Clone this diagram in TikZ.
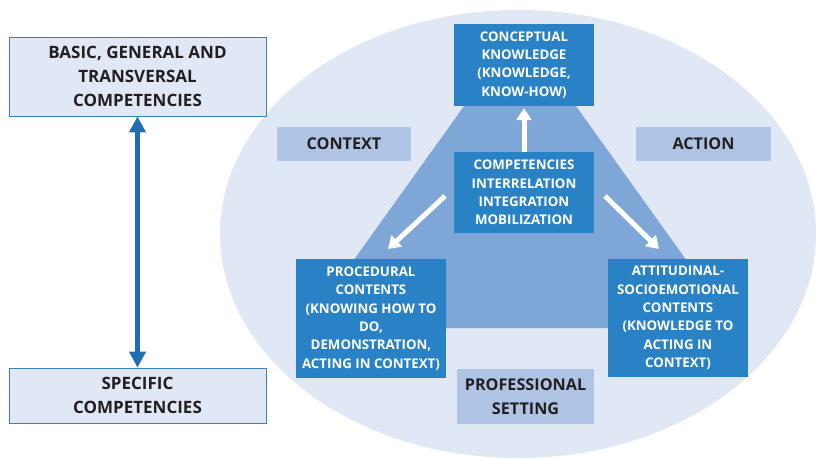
\documentclass[tikz,border=0pt]{standalone}
\usepackage{fontspec}
\setmainfont{Open Sans}
\usetikzlibrary{arrows.meta}
\definecolor{ellfill}{HTML}{E0E8F5}
\definecolor{trifill}{HTML}{7EA7D8}
\definecolor{darkbox}{HTML}{2A82C6}
\definecolor{lightbox}{HTML}{AFC4E4}
\definecolor{leftborder}{HTML}{3A7FC0}
\definecolor{txt}{HTML}{231F20}
\definecolor{arrowblue}{HTML}{1F6EB5}
\tikzset{
  x=1pt, y=-1pt,
  darkbox/.style={fill=darkbox, text=white, inner sep=0pt, align=center, font=\bfseries\fontsize{13.3}{18.3}\selectfont},
  labelbox/.style={fill=lightbox, text=txt, inner sep=0pt, align=center, font=\bfseries\fontsize{16.2}{23.5}\selectfont},
  leftbox/.style={fill=ellfill, draw=leftborder, line width=0.8pt, text=txt, inner sep=0pt, align=center, font=\bfseries\fontsize{17}{23.7}\selectfont},
  whitearrow/.style={draw=white, line width=5pt, -{Triangle[width=15pt,length=12pt]}},
  bluearrow/.style={draw=arrowblue, line width=5.5pt, {Triangle[width=16pt,length=16pt]}-{Triangle[width=16pt,length=16pt]}}
}
\begin{document}
\begin{tikzpicture}
\useasboundingbox (0,0) rectangle (817,459);
% ellipse and triangle
\fill[ellfill] (518,234) ellipse [x radius=298, y radius=224];
\fill[trifill] (520,28) -- (735,328) -- (305,328) -- cycle;
% left boxes
\node[leftbox, minimum width=257pt, minimum height=79pt] (basic) at (137.5,76.5) {BASIC, GENERAL AND\\TRANSVERSAL\\COMPETENCIES};
\node[leftbox, minimum width=257pt, minimum height=55pt] (spec) at (137.5,395.5) {SPECIFIC\\COMPETENCIES};
\draw[bluearrow] (basic.south) -- (spec.north);
% label boxes
\node[labelbox, minimum width=134pt, minimum height=34pt] (context) at (344,144) {CONTEXT};
\node[labelbox, minimum width=135pt, minimum height=34pt] (action) at (703.5,144) {ACTION};
\node[labelbox, minimum width=137pt, minimum height=55pt] (prof) at (525.5,396.5) {PROFESSIONAL\\SETTING};
% dark boxes
\node[darkbox, minimum width=140pt, minimum height=82pt] (conc) at (524,65) {CONCEPTUAL\\KNOWLEDGE\\(KNOWLEDGE,\\KNOW-HOW)};
\node[darkbox, minimum width=140pt, minimum height=81pt] (comp) at (524,192.5) {COMPETENCIES\\INTERRELATION\\INTEGRATION\\MOBILIZATION};
\node[darkbox, minimum width=150pt, minimum height=119pt] (proc) at (371,318.5) {PROCEDURAL\\CONTENTS\\(KNOWING HOW TO\\DO,\\DEMONSTRATION,\\ACTING IN CONTEXT)};
\node[darkbox, minimum width=140pt, minimum height=118pt] (att) at (678,318) {ATTITUDINAL-\\SOCIOEMOTIONAL\\CONTENTS\\(KNOWLEDGE TO\\ACTING IN\\CONTEXT)};
% white arrows
\coordinate (lstart) at (445,196);
\coordinate (lend) at (388,249);
\coordinate (rstart) at (605,196);
\coordinate (rend) at (659,249);
\draw[whitearrow] (comp.north) -- ([yshift=-2pt]conc.south);
\draw[whitearrow] (lstart) -- (lend);
\draw[whitearrow] (rstart) -- (rend);
\end{tikzpicture}
\end{document}
